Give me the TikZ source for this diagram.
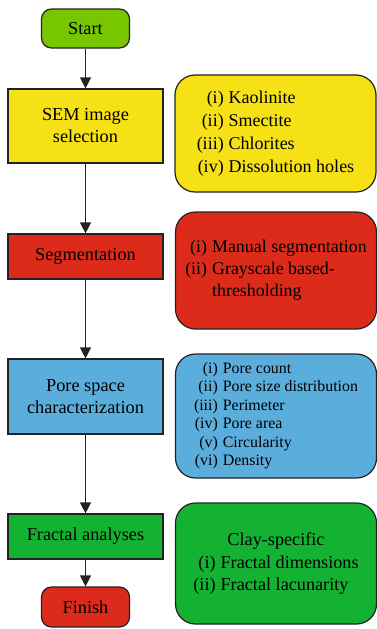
\documentclass[tikz,border=0pt]{standalone}
\usepackage{fontspec}
\setmainfont{Liberation Serif}
\usetikzlibrary{arrows.meta}
\definecolor{cstart}{HTML}{77C600}
\definecolor{cyel}{HTML}{F5E115}
\definecolor{cred}{HTML}{DC2B1B}
\definecolor{cblue}{HTML}{5BAEDC}
\definecolor{cgreen}{HTML}{13B233}
\definecolor{cline}{HTML}{222222}
\tikzset{
  x=1pt,y=-1pt,
  box/.style={draw=cline,line width=1.2pt,inner sep=0pt,align=center,
    font=\rmfamily\fontsize{18.3}{22}\selectfont},
  term/.style={box,rounded corners=10pt,minimum width=88pt,minimum height=39pt},
  proc/.style={box,minimum width=155pt},
  info/.style={draw=cline,line width=1.2pt,rounded corners=20pt,inner sep=0pt,
    minimum width=201pt},
  flow/.style={draw=cline,line width=1.3pt,-{Triangle[width=11pt,length=11pt]}}
}
\newcommand{\itemtab}[1]{\begin{tabular}{@{}r@{\hspace{5pt}}l@{}}#1\end{tabular}}
\begin{document}
\begin{tikzpicture}
\useasboundingbox (0,0) rectangle (377,629);
\node[term,fill=cstart] (start) at (85.5,28.5) {Start};
\node[proc,fill=cyel,minimum height=74pt] (sem) at (85.5,126) {SEM image\\selection};
\node[proc,fill=cred,minimum height=45pt] (seg) at (85.5,256.5) {Segmentation};
\node[proc,fill=cblue,minimum height=75pt] (pore) at (85.5,396.5) {Pore space\\characterization};
\node[proc,fill=cgreen,minimum height=45pt] (frac) at (85.5,536.5) {Fractal analyses};
\node[term,fill=cred,minimum height=40pt] (finish) at (85.5,607) {Finish};

\node[info,fill=cyel,minimum height=117pt,font=\rmfamily\fontsize{18}{23}\selectfont] (yinfo) at (275.5,133.5)
  {\itemtab{(i) & Kaolinite\\ (ii) & Smectite\\ (iii) & Chlorites\\ (iv) & Dissolution holes}};
\node[info,fill=cred,minimum height=117pt,font=\rmfamily\fontsize{17.9}{22}\selectfont] (rinfo) at (276,270.5)
  {\itemtab{(i) & Manual segmentation\\ (ii) & Grayscale based-\\ & thresholding}};
\node[info,fill=cblue,minimum height=124pt,font=\rmfamily\fontsize{15.9}{18.5}\selectfont] (binfo) at (276,416)
  {\itemtab{(i) & Pore count\\ (ii) & Pore size distribution\\ (iii) & Perimeter\\ (iv) & Pore area\\ (v) & Circularity\\ (vi) & Density}};
\node[info,fill=cgreen,minimum height=121pt,font=\rmfamily\fontsize{18.2}{22.5}\selectfont] (ginfo) at (276,563.5)
  {\itemtab{\multicolumn{2}{c}{Clay-specific}\\ (i) & Fractal dimensions\\ (ii) & Fractal lacunarity}};

\draw[flow] (start) -- (sem);
\draw[flow] (sem) -- (seg);
\draw[flow] (seg) -- (pore);
\draw[flow] (pore) -- (frac);
\draw[flow] (frac) -- (finish);
\end{tikzpicture}
\end{document}
